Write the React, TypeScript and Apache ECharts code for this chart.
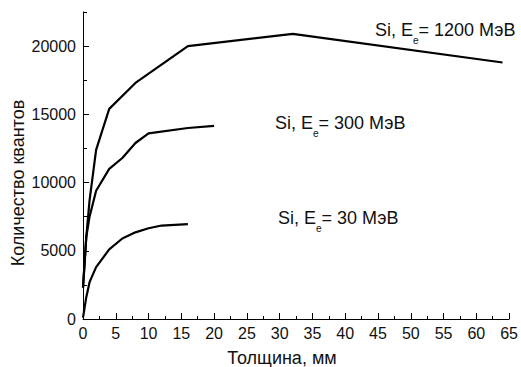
import React, { useEffect, useRef } from "react";
import * as echarts from "echarts";

const x1200 = [0, 0.5, 1, 2, 4, 8, 16, 32, 64];
const y1200 = [2300, 6000, 8700, 12400, 15400, 17300, 20000, 20900, 18800];
const x300 = [0, 0.5, 1, 2, 4, 6, 8, 10, 16, 20];
const y300 = [2300, 6000, 7500, 9400, 11000, 11800, 12900, 13600, 14000, 14150];
const x30 = [0, 0.5, 1, 2, 4, 6, 8, 10, 12, 16];
const y30 = [100, 1600, 2700, 3800, 5100, 5900, 6350, 6650, 6850, 6950];

const xTitle = "Толщина, мм";
const yTitle = "Количество квантов";
const labels = [
  { energy: "1200", x: 375, y: 30 },
  { energy: "300", x: 275, y: 123 },
  { energy: "30", x: 278, y: 218 },
];

const FONT = "'Liberation Sans', Arial, sans-serif";

function zip(xs: number[], ys: number[]) {
  return xs.map((x, i) => [x, ys[i]]);
}

export default function App() {
  const ref = useRef<HTMLDivElement>(null);
  useEffect(() => {
    if (!ref.current) return;
    const chart = echarts.init(ref.current, undefined, { renderer: "svg" });
    const lineStyle = { color: "#000", width: 2.2 };
    const mkSeries = (name: string, data: number[][]) => ({
      name,
      type: "line",
      data,
      showSymbol: false,
      symbol: "none",
      lineStyle,
      xAxisIndex: 0,
      yAxisIndex: 0,
    });
    chart.setOption({
      animation: false,
      backgroundColor: "#fff",
      grid: { left: 83, right: 9, top: 12, bottom: 48 },
      xAxis: [
        {
          type: "value",
          min: 0,
          max: 65,
          interval: 5,
          axisLine: { show: true, lineStyle: { color: "#000", width: 1 } },
          axisTick: { show: true, inside: true, length: 6, lineStyle: { color: "#000" } },
          minorTick: { show: true, splitNumber: 2, length: 3, lineStyle: { color: "#000" } },
          splitLine: { show: false },
          axisLabel: { color: "#111", fontSize: 16, fontFamily: FONT, margin: 6 },
        },
      ],
      yAxis: [
        {
          type: "value",
          min: 0,
          max: 22500,
          interval: 5000,
          axisLine: { show: true, lineStyle: { color: "#000", width: 1 } },
          axisTick: { show: true, inside: true, length: 6, lineStyle: { color: "#000" } },
          splitLine: { show: false },
          axisLabel: {
            color: "#111",
            fontSize: 16,
            fontFamily: FONT,
            margin: 7,
            showMaxLabel: false,
            formatter: (v: number) => (v % 5000 === 0 ? String(v) : ""),
          },
        },
        {
          type: "value",
          position: "left",
          min: 0,
          max: 22500,
          interval: 2500,
          axisLine: { show: false },
          axisTick: { show: true, inside: true, length: 4, lineStyle: { color: "#000" } },
          splitLine: { show: false },
          axisLabel: { show: false },
        },
      ],
      series: [
        mkSeries("1200", zip(x1200, y1200)),
        mkSeries("300", zip(x300, y300)),
        mkSeries("30", zip(x30, y30)),
      ],
      graphic: [
        {
          type: "text",
          x: 282,
          y: 358,
          style: {
            text: xTitle,
            fontSize: 18,
            fontFamily: FONT,
            fill: "#111",
            align: "center",
            verticalAlign: "middle",
          },
        },
        {
          type: "text",
          x: 18,
          y: 183,
          rotation: Math.PI / 2,
          style: {
            text: yTitle,
            fontSize: 18,
            fontFamily: FONT,
            fill: "#111",
            align: "center",
            verticalAlign: "middle",
          },
        },
        ...labels.map((l) => ({
          type: "text",
          x: l.x,
          y: l.y,
          style: {
            text: `{a|Si, E}{s|e}{a|= ${l.energy} МэВ}`,
            fontFamily: FONT,
            fill: "#111",
            align: "left",
            verticalAlign: "middle",
            rich: {
              a: { fontSize: 18, lineHeight: 30, fontFamily: FONT, fill: "#111", color: "#111" },
              s: {
                fontSize: 10,
                lineHeight: 10,
                verticalAlign: "bottom",
                fontFamily: FONT,
                fill: "#111",
                color: "#111",
              },
            },
          },
        })),
      ],
    });
    return () => chart.dispose();
  }, []);
  return (
    <div
      ref={ref}
      style={{ position: "fixed", left: 0, top: 0, width: 521, height: 367 }}
    />
  );
}
